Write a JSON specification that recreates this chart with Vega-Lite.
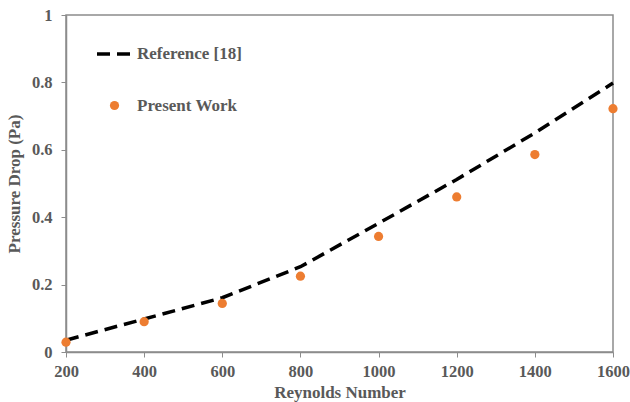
{
  "$schema": "https://vega.github.io/schema/vega-lite/v6.json",
  "width": 547,
  "height": 337,
  "autosize": {"type": "none"},
  "padding": {"left": 66, "top": 15, "right": 17, "bottom": 50},
  "background": "white",
  "config": {
    "view": {"stroke": "#8c8c8c", "strokeWidth": 1.5},
    "font": "Liberation Serif",
    "axis": {
      "grid": false,
      "domainColor": "#8c8c8c",
      "domainWidth": 1.5,
      "tickColor": "#8c8c8c",
      "tickSize": 5,
      "labelFont": "Liberation Serif",
      "labelFontWeight": "bold",
      "labelFontSize": 16.5,
      "labelColor": "#595959",
      "titleFont": "Liberation Serif",
      "titleFontWeight": "bold",
      "titleFontSize": 17,
      "titleColor": "#595959"
    }
  },
  "datasets": {
    "reference": [
      {"series": "Reference [18]", "Re": 200, "dp": 0.035},
      {"series": "Reference [18]", "Re": 400, "dp": 0.098},
      {"series": "Reference [18]", "Re": 600, "dp": 0.161},
      {"series": "Reference [18]", "Re": 800, "dp": 0.253},
      {"series": "Reference [18]", "Re": 1000, "dp": 0.382},
      {"series": "Reference [18]", "Re": 1200, "dp": 0.512},
      {"series": "Reference [18]", "Re": 1400, "dp": 0.65},
      {"series": "Reference [18]", "Re": 1600, "dp": 0.798}
    ],
    "present": [
      {"series": "Present Work", "Re": 200, "dp": 0.029},
      {"series": "Present Work", "Re": 400, "dp": 0.09},
      {"series": "Present Work", "Re": 600, "dp": 0.144},
      {"series": "Present Work", "Re": 800, "dp": 0.225},
      {"series": "Present Work", "Re": 1000, "dp": 0.343},
      {"series": "Present Work", "Re": 1200, "dp": 0.46},
      {"series": "Present Work", "Re": 1400, "dp": 0.586},
      {"series": "Present Work", "Re": 1600, "dp": 0.722}
    ]
  },
  "encoding": {
    "x": {
      "field": "Re",
      "type": "quantitative",
      "scale": {"domain": [200, 1600], "nice": false, "zero": false},
      "axis": {"title": "Reynolds Number", "values": [200, 400, 600, 800, 1000, 1200, 1400, 1600], "format": "d", "labelPadding": 6, "titlePadding": 5, "labelFlush": false}
    },
    "y": {
      "field": "dp",
      "type": "quantitative",
      "scale": {"domain": [0, 1], "nice": false},
      "axis": {"title": "Pressure Drop (Pa)", "values": [0, 0.2, 0.4, 0.6, 0.8, 1], "format": "~g", "labelPadding": 9, "titlePadding": 8, "labelFlush": false}
    }
  },
  "layer": [
    {
      "data": {"name": "reference"},
      "mark": {"type": "line", "color": "black", "strokeWidth": 3.5, "strokeCap": "butt"},
      "encoding": {
        "strokeDash": {
          "field": "series",
          "type": "nominal",
          "scale": {"domain": ["Reference [18]"], "range": [[13, 7]]},
          "legend": {
            "title": null,
            "orient": "none",
            "legendX": 29,
            "legendY": 18,
            "padding": 0,
            "symbolType": "stroke",
            "symbolSize": 1444,
            "symbolStrokeColor": "black",
            "symbolStrokeWidth": 3.5,
            "labelOffset": 0,
            "labelFont": "Liberation Serif",
            "labelFontWeight": "bold",
            "labelFontSize": 17,
            "labelColor": "#595959"
          }
        }
      }
    },
    {
      "data": {"name": "present"},
      "mark": {"type": "point", "filled": true, "opacity": 1, "size": 85, "shape": "circle"},
      "encoding": {
        "color": {
          "field": "series",
          "type": "nominal",
          "scale": {"domain": ["Present Work"], "range": ["#ED7D31"]},
          "legend": {
            "title": null,
            "orient": "none",
            "legendX": 40,
            "legendY": 82,
            "padding": 0,
            "symbolType": "circle",
            "symbolSize": 85,
            "symbolOpacity": 1,
            "labelOffset": 14,
            "labelFont": "Liberation Serif",
            "labelFontWeight": "bold",
            "labelFontSize": 17,
            "labelColor": "#595959"
          }
        }
      }
    }
  ]
}
